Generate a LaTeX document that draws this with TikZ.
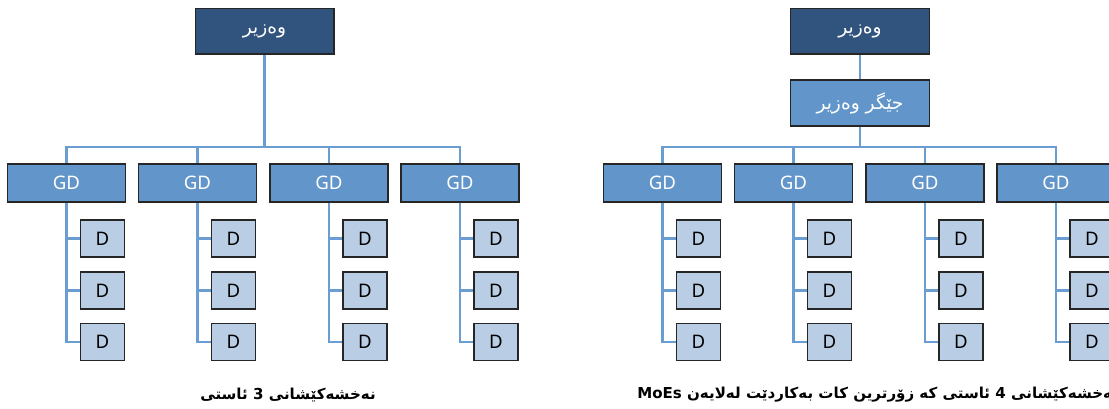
\documentclass[tikz,border=0pt]{standalone}
\usepackage{fontspec}
\setmainfont{Noto Sans}
\newfontfamily\kufont[Script=Arabic]{DejaVu Sans}
\TeXXeTstate=1
\definecolor{ministerblue}{RGB}{48,84,126}
\definecolor{gdblue}{RGB}{98,149,201}
\definecolor{dblue}{RGB}{185,205,229}
\definecolor{linkblue}{RGB}{106,157,210}

\begin{document}
\begin{tikzpicture}[x=0.75pt,y=-0.75pt,
  box/.style={draw=black!85,line width=1pt,inner sep=0pt,anchor=center},
  minister/.style={box,fill=ministerblue,text=white,minimum width=104pt,minimum height=34pt,
    font=\kufont\fontsize{14}{16}\selectfont},
  deputy/.style={box,fill=gdblue,text=white,minimum width=104pt,minimum height=34.5pt,
    font=\kufont\fontsize{14}{16}\selectfont},
  gd/.style={box,fill=gdblue,text=white,minimum width=88.5pt,minimum height=28.5pt,
    font=\fontsize{14}{16}\selectfont},
  dept/.style={box,fill=dblue,text=black,minimum width=33pt,minimum height=27.75pt,
    font=\fontsize{14}{16}\selectfont},
  link/.style={draw=linkblue,line width=2.2pt},
  caption/.style={font=\kufont\bfseries\fontsize{11.3}{13}\selectfont,inner sep=0pt}]

\useasboundingbox (0,0) rectangle (1109,409);

% ---------- three-level chart ----------
\node[minister] (L-top) at (264.5,31.5) {\beginR وەزیر\endR};
\coordinate (L-bus) at (264.5,147);
\foreach \i/\x in {1/66.5,2/197.5,3/329,4/460}{
  \node[gd] (L-gd\i) at (\x,183) {GD};
  \foreach \j/\y in {1/238.5,2/290.5,3/342}{
    \node[dept] (L-d\i\j) at (\x+36,\y) {D};
  }
}
\draw[link] (L-top) -- (L-bus);
\draw[link] (L-gd1.north) -- (L-gd1.north |- L-bus) -- (L-gd4.north |- L-bus) -- (L-gd4.north);
\foreach \i in {2,3}{
  \draw[link] (L-gd\i.north) -- (L-gd\i.north |- L-bus);
}
\foreach \i in {1,...,4}{
  \draw[link] (L-gd\i.south) |- (L-d\i3.west);
  \draw[link] (L-gd\i.south |- L-d\i1.west) -- (L-d\i1.west);
  \draw[link] (L-gd\i.south |- L-d\i2.west) -- (L-d\i2.west);
}
\node[caption] (L-cap) at (288,395) {\beginR نەخشەکێشانی 3 ئاستی\endR};

% ---------- four-level chart ----------
\begin{scope}
\clip (0,0) rectangle (1109,409);
\node[minister] (R-top) at (860,31.5) {\beginR وەزیر\endR};
\node[deputy] (R-dep) at (860,103) {\beginR جێگر وەزیر\endR};
\coordinate (R-bus) at (860,147);
\foreach \i/\x in {1/662.5,2/793.5,3/925,4/1056}{
  \node[gd] (R-gd\i) at (\x,183) {GD};
  \foreach \j/\y in {1/238.5,2/290.5,3/342}{
    \node[dept] (R-d\i\j) at (\x+36,\y) {D};
  }
}
\draw[link] (R-top) -- (R-dep);
\draw[link] (R-dep) -- (R-bus);
\draw[link] (R-gd1.north) -- (R-gd1.north |- R-bus) -- (R-gd4.north |- R-bus) -- (R-gd4.north);
\foreach \i in {2,3}{
  \draw[link] (R-gd\i.north) -- (R-gd\i.north |- R-bus);
}
\foreach \i in {1,...,4}{
  \draw[link] (R-gd\i.south) |- (R-d\i3.west);
  \draw[link] (R-gd\i.south |- R-d\i1.west) -- (R-d\i1.west);
  \draw[link] (R-gd\i.south |- R-d\i2.west) -- (R-d\i2.west);
}
\node[caption,anchor=west] (R-cap) at (637,395)
  {\beginR نەخشەکێشانی 4 ئاستی کە زۆرترین کات بەکاردێت لەلایەن \beginL MoEs\endL\endR};
\end{scope}
\end{tikzpicture}
\end{document}
